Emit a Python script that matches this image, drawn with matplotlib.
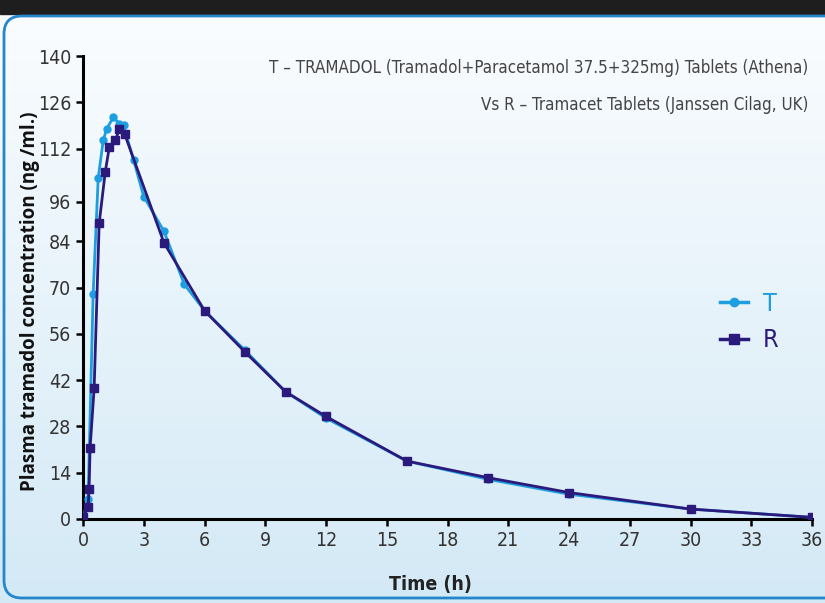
import numpy as np
import matplotlib.pyplot as plt
from matplotlib.patches import FancyBboxPatch, Rectangle
from matplotlib.lines import Line2D

# data
t_time = [0, 0.25, 0.5, 0.75, 1.0, 1.17, 1.5, 1.8, 2.0, 2.5, 3, 4, 5, 6, 8, 10, 12, 16, 20, 24, 30, 36]
t_conc = [0, 6, 68, 103, 114.5, 118, 121.5, 119.5, 119, 108.5, 97.5, 87, 71, 63, 51, 38.5, 30.5, 17.5, 12, 7.5, 3, 0.5]

r_time = [0, 0.25, 0.3, 0.35, 0.55, 0.8, 1.1, 1.3, 1.6, 1.8, 2.05, 4, 6, 8, 10, 12, 16, 20, 24, 30, 36]
r_conc = [0.5, 3.5, 9, 21.5, 39.5, 89.5, 105, 112.5, 114.5, 118, 116.5, 83.5, 63, 50.5, 38.5, 31, 17.5, 12.5, 8, 3, 0.5]

x_ticks = list(range(0, 37, 3))
y_ticks = [0, 14, 28, 42, 56, 70, 84, 96, 112, 126, 140]

T_COL = '#1c9ee0'
R_COL = '#2b1a7c'
narrow = dict(family='DejaVu Sans', stretch='condensed')

fig = plt.figure(figsize=(8.25, 6.03), dpi=100)

# background: gradient panel, dark top bar, rounded blue frame
bg = fig.add_axes([0, 0, 1, 1], zorder=-10)
bg.set_axis_off()
grad = np.linspace(0, 1, 256).reshape(-1, 1)
top = np.array([0.985, 0.992, 0.998])
bot = np.array([0.83, 0.915, 0.965])
img = top + (bot - top) * grad[..., None]
bg.imshow(img, extent=[0, 825, 603, 0], aspect='auto')
bg.add_patch(Rectangle((0, 0), 825, 14, color='#1e1e1e', zorder=3))
bg.add_patch(FancyBboxPatch((4, 16), 840, 582, boxstyle='round,pad=0,rounding_size=18',
                            fill=False, edgecolor='#2586cc', linewidth=2, zorder=3))
bg.set_xlim(0, 825)
bg.set_ylim(603, 0)

ax = fig.add_axes([83 / 825, 1 - 519 / 603, 729 / 825, 463 / 603])
ax.patch.set_alpha(0)

ax.plot(t_time, t_conc, color=T_COL, marker='o', markersize=5, linewidth=2, zorder=3)
ax.plot(r_time, r_conc, color=R_COL, marker='s', markersize=6, linewidth=2, zorder=4)

ax.set_xlim(0, 36)
ax.set_ylim(0, 140)
ax.set_xticks(x_ticks)
ax.set_yticks(y_ticks)
for s in ['top', 'right']:
    ax.spines[s].set_visible(False)
for s in ['left', 'bottom']:
    ax.spines[s].set_linewidth(2.2)
ax.tick_params(direction='out', length=5, width=1.8, colors='black', labelcolor='#333333', labelsize=14)
for lab in ax.get_xticklabels() + ax.get_yticklabels():
    lab.set_family(narrow['family'])
    lab.set_stretch(narrow['stretch'])

ax.set_xlabel('Time (h)', fontsize=14, fontweight='bold', color='#222222', **narrow)
ax.xaxis.set_label_coords(0.476, -0.121)
ax.set_ylabel('Plasma tramadol concentration (ng /ml.)', family=['Open Sans', 'DejaVu Sans'],
              fontsize=13.5, fontweight='bold', color='#111111')
ax.yaxis.set_label_coords(-0.059, 0.47)

fig.text(808 / 825, 1 - 68 / 603, 'T \u2013 TRAMADOL (Tramadol+Paracetamol 37.5+325mg) Tablets (Athena)',
         ha='right', va='center', fontsize=12.2, color='#444444', **narrow)
fig.text(808 / 825, 1 - 105 / 603, 'Vs R \u2013 Tramacet Tablets (Janssen Cilag, UK)',
         ha='right', va='center', fontsize=12.2, color='#444444', **narrow)

handles = [Line2D([], [], color=T_COL, marker='o', markersize=6, linewidth=2.5),
           Line2D([], [], color=R_COL, marker='s', markersize=7, linewidth=2.5)]
leg = ax.legend(handles, ['T', 'R'], loc='center left', bbox_to_anchor=(0.843, 0.425),
                frameon=False, handlelength=1.1, handletextpad=0.6, labelspacing=0.5,
                prop={**narrow, 'size': 18})
for txt, c in zip(leg.get_texts(), [T_COL, R_COL]):
    txt.set_color(c)

fig.savefig('out.png', dpi=100)
